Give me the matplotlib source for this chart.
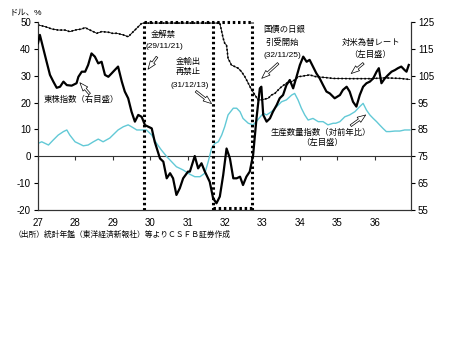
import matplotlib
matplotlib.use("Agg")
import matplotlib.pyplot as plt
import numpy as np

plt.rcParams['font.family'] = ['Liberation Sans', 'Noto Sans CJK JP', 'DejaVu Sans']

# ---------------- data ----------------
# Tokyo stock index (right axis)
stock_year = [27.00, 27.05, 27.14, 27.23, 27.32, 27.41, 27.50, 27.59, 27.68, 27.77, 27.90,
              28.03, 28.08, 28.17, 28.26, 28.34, 28.43, 28.52, 28.61, 28.70, 28.79, 28.88, 28.97,
              29.01, 29.14, 29.24, 29.32, 29.41, 29.50, 29.59, 29.68, 29.77, 29.86, 29.95,
              30.04, 30.12, 30.26, 30.35, 30.44, 30.53, 30.61, 30.70, 30.79, 30.88,
              31.01, 31.06, 31.19, 31.28, 31.37, 31.46, 31.59, 31.68, 31.77, 31.86, 31.95,
              32.04, 32.13, 32.22, 32.31, 32.40, 32.48, 32.57, 32.66, 32.75, 32.84, 32.93, 32.97,
              33.02, 33.11, 33.20, 33.28, 33.38, 33.46, 33.55, 33.64, 33.73, 33.82, 33.91,
              34.00, 34.09, 34.18, 34.26, 34.35, 34.44, 34.53, 34.62, 34.71, 34.80, 34.93,
              35.07, 35.15, 35.25, 35.33, 35.42, 35.51, 35.60, 35.69, 35.78, 35.87, 35.96,
              36.05, 36.11, 36.18, 36.27, 36.36, 36.45, 36.54, 36.62, 36.71, 36.80, 36.85, 36.91]
stock_index = [117.1, 120.2, 115.2, 110.2, 105.3, 102.8, 100.5, 100.9, 102.8, 101.5, 101.3,
               102.2, 104.6, 106.5, 106.5, 109.0, 113.3, 112.1, 109.6, 110.2, 105.3, 104.6, 105.9,
               106.5, 108.4, 102.8, 99.1, 96.6, 91.6, 87.9, 90.4, 89.7, 86.6, 86.0,
               85.4, 80.4, 74.2, 73.0, 66.8, 68.7, 66.8, 60.6, 63.1, 66.8,
               69.3, 69.3, 75.1, 70.5, 72.4, 69.3, 65.5, 59.4, 57.5, 60.0, 68.0,
               77.9, 74.2, 66.8, 66.8, 67.4, 64.3, 67.4, 69.3, 75.5, 89.1, 100.3, 100.9,
               90.4, 87.9, 89.1, 91.6, 94.1, 96.6, 97.8, 101.5, 103.4, 100.3, 104.6,
               109.0, 112.1, 110.2, 110.9, 108.4, 105.9, 104.0, 101.5, 99.1, 98.4, 96.6,
               97.8, 99.7, 100.9, 99.1, 95.3, 93.5, 97.8, 100.9, 102.2, 102.8, 104.0,
               106.5, 107.8, 102.2, 104.0, 105.3, 106.5, 107.1, 107.8, 108.4, 107.1, 106.5, 109.0]

# Production volume index, year-on-year % (left axis)
prod_year = [27.00, 27.10, 27.28, 27.41, 27.54, 27.68, 27.77, 27.85, 27.99, 28.08, 28.21,
             28.34, 28.48, 28.61, 28.74, 28.92, 29.14, 29.28, 29.41, 29.50, 29.64, 29.90,
             30.04, 30.17, 30.30, 30.44, 30.57, 30.70, 30.88, 31.06, 31.19, 31.33, 31.46,
             31.55, 31.64, 31.73, 31.82, 31.91, 31.99, 32.08, 32.22, 32.31, 32.40, 32.48,
             32.62, 32.75, 32.87, 33.02, 33.11, 33.24, 33.38, 33.51, 33.64, 33.78, 33.86,
             33.95, 34.04, 34.13, 34.22, 34.35, 34.49, 34.62, 34.75, 34.89, 34.96, 35.07,
             35.20, 35.33, 35.47, 35.60, 35.69, 35.78, 35.87, 35.96, 36.05, 36.13, 36.22,
             36.31, 36.40, 36.54, 36.67, 36.80, 36.94]
prod_yoy = [4.8, 5.4, 4.2, 6.1, 7.9, 9.2, 9.8, 7.9, 5.4, 4.8, 3.9,
            4.2, 5.4, 6.4, 5.4, 6.8, 9.8, 11.0, 11.7, 11.0, 9.8, 9.8,
            7.9, 4.8, 2.3, -0.1, -2.0, -3.9, -5.1, -6.7, -7.6, -7.6, -6.3,
            -2.0, 3.0, 4.8, 5.4, 7.9, 11.0, 15.4, 17.9, 17.9, 16.6, 14.1,
            12.3, 11.7, 13.5, 16.0, 15.4, 16.6, 18.5, 20.3, 21.0, 22.8, 23.4,
            21.0, 17.9, 15.4, 13.5, 14.1, 12.9, 12.9, 11.7, 12.3, 12.3, 12.9,
            14.7, 15.4, 16.6, 18.5, 19.7, 17.2, 15.4, 14.1, 12.9, 11.7, 10.4,
            9.2, 9.2, 9.4, 9.4, 9.8, 9.8]

# Yen / US dollar rate, dollars per 100 yen (left axis)
fx_year = [27.00, 27.19, 27.37, 27.54, 27.72, 27.85, 27.99, 28.17, 28.26, 28.39, 28.57,
           28.70, 28.88, 28.98, 29.10, 29.28, 29.41, 29.59, 29.77, 29.86, 31.86, 31.95,
           31.99, 32.04, 32.08, 32.17, 32.26, 32.35, 32.44, 32.53, 32.62, 32.71, 32.80,
           32.88, 32.97, 33.15, 33.24, 33.33, 33.42, 33.51, 33.64, 33.78, 33.86, 33.95,
           34.09, 34.26, 34.44, 34.62, 34.89, 35.33, 35.87, 36.27, 36.67, 36.94]
fx_rate = [48.9, 48.3, 47.4, 47.0, 47.0, 46.4, 47.0, 47.4, 47.9, 47.0, 45.8,
           46.4, 46.2, 45.8, 45.8, 45.2, 44.5, 47.0, 49.5, 49.6, 49.6, 43.9,
           42.1, 41.4, 36.5, 34.0, 33.4, 32.8, 31.5, 29.6, 27.2, 24.7, 22.8,
           21.0, 21.0, 21.6, 22.8, 23.4, 24.7, 25.9, 27.2, 27.8, 28.4, 29.6,
           29.9, 30.3, 29.6, 29.4, 29.0, 28.9, 28.9, 29.2, 29.0, 28.6]

year_ticks = [27, 28, 29, 30, 31, 32, 33, 34, 35, 36]
left_ticks = [-20, -10, 0, 10, 20, 30, 40, 50]
right_ticks = [55, 65, 75, 85, 95, 105, 115, 125]

# event marker lines (dotted frame)
gold_lift = 29.83      # 29/11/21
gold_reban = 31.68     # 31/12/13
boj_start = 32.73      # 32/11/25

# ---------------- figure ----------------
fig = plt.figure(figsize=(4.5, 3.41), dpi=100)
ax = fig.add_axes([38/450, 1-210/341, (411-38)/450, (210-22)/341])
ax2 = ax.twinx()

ax.set_xlim(27, 36.97)
ax.set_ylim(-20, 50)
ax2.set_ylim(55, 125)

# production (cyan)
ax.plot(prod_year, prod_yoy, color='#62C9D6', lw=1.0, zorder=3)
# fx rate: thin line + marker-like dotted overlay
ax.plot(fx_year, fx_rate, color='black', lw=0.6, zorder=4)
ax.plot(fx_year, fx_rate, color='black', lw=1.2, linestyle=(0, (1.0, 1.3)), zorder=4)
# stock index (right axis)
ax2.plot(stock_year, stock_index, color='black', lw=1.6, zorder=5)

# dotted frame
dot = dict(color='black', lw=2.2, linestyle=(0, (0.8, 0.9)), clip_on=False, zorder=6)
ax.plot([gold_lift, gold_lift], [-20, 50], **dot)
ax.plot([gold_reban, gold_reban], [-20, 50], **dot)
ax.plot([boj_start, boj_start], [-20, 50], **dot)
ax.plot([gold_lift, boj_start], [50, 50], **dot)
ax.plot([gold_reban, boj_start], [-19.2, -19.2], **dot)

# axes styling
for a in (ax, ax2):
    a.spines['top'].set_visible(False)
    for s in ('left', 'right', 'bottom'):
        a.spines[s].set_color('#333333')
        a.spines[s].set_linewidth(0.8)
    a.set_facecolor('none')

ax.set_yticks(left_ticks)
ax.set_yticklabels([str(v) for v in left_ticks])
ax2.set_yticks(right_ticks)
ax2.set_yticklabels([str(v) for v in right_ticks])
ax.tick_params(axis='y', direction='out', length=3, width=0.8, labelsize=7, pad=2)
ax2.tick_params(axis='y', direction='out', length=3, width=0.8, labelsize=7, pad=2)

ax.set_xticks(year_ticks)
ax.set_xticklabels([str(v) for v in year_ticks])
ax.tick_params(axis='x', length=0, labelsize=7, pad=6)

# zero line with year ticks
zero_ax = ax.secondary_xaxis(20/70)
zero_ax.set_xticks(year_ticks)
zero_ax.set_xticklabels([])
zero_ax.tick_params(axis='x', direction='out', length=3, width=0.8, color='#333333')
zero_ax.spines['bottom'].set_color('#333333')
zero_ax.spines['bottom'].set_linewidth(0.8)

# ---------------- annotations ----------------
fs = 6
arrow_kw = dict(arrowstyle='simple,head_width=0.45,head_length=0.6,tail_width=0.15',
                fc='white', ec='black', lw=0.5, shrinkA=0, shrinkB=0)

ax.text(30.34, 45.2, '金解禁', ha='center', va='center', fontsize=fs)
ax.text(30.37, 40.7, '(29/11/21)', ha='center', va='center', fontsize=fs)
ax.annotate('', xy=(29.94, 32.4), xytext=(30.18, 37.0), arrowprops=arrow_kw)

ax.text(31.01, 35.1, '金輸出', ha='center', va='center', fontsize=fs)
ax.text(31.01, 31.4, '再禁止', ha='center', va='center', fontsize=fs)
ax.text(31.06, 26.5, '(31/12/13)', ha='center', va='center', fontsize=fs)
ax.annotate('', xy=(31.64, 19.6), xytext=(31.22, 24.2), arrowprops=arrow_kw)

ax.text(28.15, 21.0, '東株指数（右目盛）', ha='center', va='center', fontsize=fs)
ax.annotate('', xy=(28.12, 27.4), xytext=(28.38, 23.2), arrowprops=arrow_kw)

ax.text(33.57, 47.0, '国債の日銀', ha='center', va='center', fontsize=fs)
ax.text(33.54, 42.2, '引受開始', ha='center', va='center', fontsize=fs)
ax.text(33.54, 37.7, '(32/11/25)', ha='center', va='center', fontsize=fs)
ax.annotate('', xy=(32.98, 29.0), xytext=(33.42, 34.6), arrowprops=arrow_kw)

ax.text(35.89, 42.2, '対米為替レート', ha='center', va='center', fontsize=fs)
ax.text(35.87, 37.7, '（左目盛）', ha='center', va='center', fontsize=fs)
ax.annotate('', xy=(35.37, 30.8), xytext=(35.70, 34.6), arrowprops=arrow_kw)

ax.text(34.56, 8.7, '生産数量指数（対前年比）', ha='center', va='center', fontsize=fs)
ax.text(34.59, 5.0, '（左目盛）', ha='center', va='center', fontsize=fs)
ax.annotate('', xy=(35.76, 15.4), xytext=(35.36, 11.4), arrowprops=arrow_kw)

fig.text(10/450, 1-13/341, 'ドル、%', ha='left', va='center', fontsize=fs)
fig.text(14/450, 1-235/341, '（出所）統計年鑑（東洋経済新報社）等よりＣＳＦＢ証券作成',
         ha='left', va='center', fontsize=5.6)

fig.savefig('out.png', dpi=100, facecolor='white')
